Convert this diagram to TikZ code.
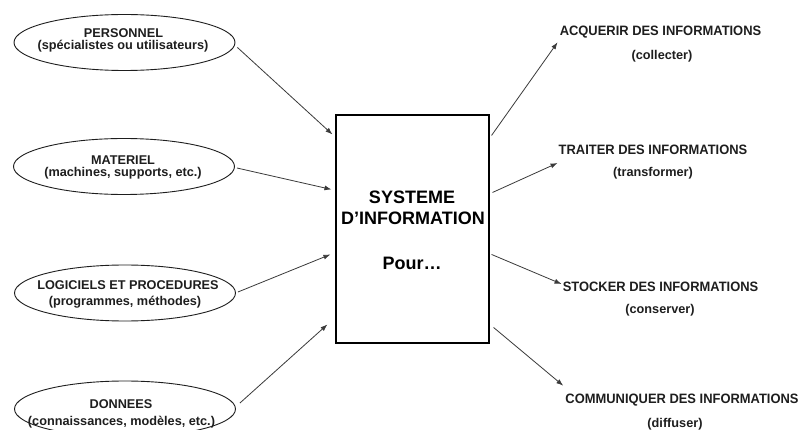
\documentclass[tikz,border=0pt]{standalone}
\usepackage{fontspec}
\setmainfont{Liberation Sans}
\usetikzlibrary{shapes.geometric,arrows.meta,calc}
\definecolor{inkgray}{HTML}{1E1E1E}
\definecolor{linegray}{HTML}{3A3A3A}
\tikzset{
  resource/.style={draw=inkgray, line width=0.9pt, ellipse, minimum width=221pt, minimum height=56pt, inner sep=0pt},
  smalltext/.style={font=\bfseries\fontsize{12.7}{13}\selectfont, text=inkgray, inner sep=0pt},
  titletext/.style={font=\bfseries\fontsize{13.6}{14}\addfontfeature{FakeStretch=0.95}\selectfont, text=inkgray, inner sep=0pt},
  bigtext/.style={font=\bfseries\fontsize{18}{20}\selectfont, text=black, inner sep=0pt},
  sysbox/.style={draw=black, line width=1.1pt, minimum width=153pt, minimum height=228pt, inner sep=0pt},
  flow/.style={draw=linegray, line width=0.8pt, -{Latex[length=7pt,width=5pt]}}
}
\begin{document}
\begin{tikzpicture}[x=1pt,y=-1pt]
\useasboundingbox (0,0) rectangle (798,430);
\clip (0,0) rectangle (798,430);
\fill[white] (0,0) rectangle (798,430);

% resources feeding the system
\node[resource] (e1) at (124.5,42.5) {};
\node[resource] (e2) at (124,166.5) {};
\node[resource] (e3) at (125,293) {};
\node[resource] (e4) at (125,409) {};

\node[smalltext] (e1a) at (123.5,33) {PERSONNEL};
\node[smalltext] (e1b) at (123,46) {(spécialistes ou utilisateurs)};
\node[smalltext] (e2a) at (123,160) {MATERIEL};
\node[smalltext] (e2b) at (123,173.5) {(machines, supports, etc.)};
\node[smalltext] (e3a) at (128,285) {LOGICIELS ET PROCEDURES};
\node[smalltext] (e3b) at (125,302) {(programmes, méthodes)};
\node[smalltext] (e4a) at (121,404) {DONNEES};
\node[smalltext] (e4b) at (121.5,422) {(connaissances, modèles, etc.)};

% central system
\node[sysbox] (sys) at (412.5,229) {};
\node[bigtext] (s1) at (412,197) {SYSTEME};
\node[bigtext] (s2) at (413,218) {D’INFORMATION};
\node[bigtext] (s3) at (412,263) {Pour…};

% functions of the system
\node[titletext] (f1a) at (660.5,32) {ACQUERIR DES INFORMATIONS};
\node[smalltext] (f1b) at (662,56) {(collecter)};
\node[titletext] (f2a) at (653,150) {TRAITER DES INFORMATIONS};
\node[smalltext] (f2b) at (653,173) {(transformer)};
\node[titletext] (f3a) at (660.5,287) {STOCKER DES INFORMATIONS};
\node[smalltext] (f3b) at (660,310) {(conserver)};
\node[titletext] (f4a) at (682,400) {COMMUNIQUER DES INFORMATIONS};
\node[smalltext] (f4b) at (675,424) {(diffuser)};

% arrow ends
\coordinate (i1) at ($(sys.north west)+(-3,20)$);
\coordinate (i2) at ($(sys.north west)+(-4,75)$);
\coordinate (i3) at ($(sys.north west)+(-5,140)$);
\coordinate (i4) at ($(sys.north west)+(-8,210)$);
\coordinate (o1) at ($(f1a.south west)+(-2,4)$);
\coordinate (o2) at ($(f2a.south west)+(-1,8)$);
\coordinate (o3) at ($(f3a.west)+(-1,-3)$);
\coordinate (o4) at ($(f4a.north west)+(-2,-8)$);

\draw[flow] ($(e1.east)+(2,5)$) -- (i1);
\draw[flow] ($(e2.east)+(2,1.5)$) -- (i2);
\draw[flow] ($(e3.east)+(2,-1)$) -- (i3);
\draw[flow] ($(e4.east)+(4,-6)$) -- (i4);

\draw[flow] ($(sys.north east)+(2,21)$) -- (o1);
\draw[flow] ($(sys.north east)+(3,78)$) -- (o2);
\draw[flow] ($(sys.north east)+(2,140)$) -- (o3);
\draw[flow] ($(sys.north east)+(4,213)$) -- (o4);
\end{tikzpicture}
\end{document}
